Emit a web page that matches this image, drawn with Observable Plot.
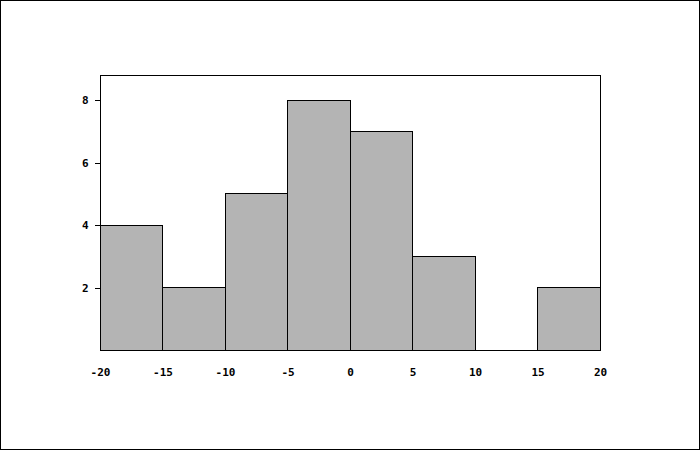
<!DOCTYPE html>
<html>
<head>
<meta charset="utf-8">
<script src="https://cdn.jsdelivr.net/npm/d3@7"></script>
<script src="https://cdn.jsdelivr.net/npm/@observablehq/plot@0.6"></script>
<style>
  html, body { margin: 0; padding: 0; background: #fff; }
  #wrap { position: relative; width: 700px; height: 450px; }
  #border { position: absolute; left: 0; top: 0; width: 700px; height: 450px; box-sizing: border-box; border: 1px solid #000; pointer-events: none; }
  #wrap svg { position: absolute; left: 0; top: 0; }
  #wrap svg rect, #wrap svg path, #wrap svg line { shape-rendering: crispEdges; }
</style>
</head>
<body>
<div id="wrap"><div id="border"></div></div>
<script>
const binStarts = [-20, -15, -10, -5, 0, 5, 10, 15];
const binEnds = [-15, -10, -5, 0, 5, 10, 15, 20];
const counts = [4, 2, 5, 8, 7, 3, 0, 2];
const xTicks = [-20, -15, -10, -5, 0, 5, 10, 15, 20];
const yTicks = [2, 4, 6, 8];

const bins = binStarts.map((s, i) => ({x1: s, x2: binEnds[i], y: counts[i]}));

const chart = Plot.plot({
  width: 700,
  height: 450,
  marginLeft: 100,
  marginRight: 100,
  marginTop: 75,
  marginBottom: 100,
  style: {fontFamily: "'DejaVu Sans Mono', monospace", fontSize: "11px", fontWeight: "bold", background: "transparent", color: "#000"},
  x: {domain: [-20, 20], ticks: xTicks, tickSize: 0, tickPadding: 18, tickFormat: d => String(d), label: null},
  y: {domain: [0, 8.8], ticks: yTicks, tickSize: 5, tickPadding: 7, tickFormat: d => String(d), label: null},
  marks: [
    Plot.rectY(bins.filter(d => d.y > 0), {x1: "x1", x2: "x2", y: "y", fill: "#b4b4b4", stroke: "#000", strokeWidth: 1, inset: 0}),
    Plot.frame({stroke: "#000", strokeWidth: 1})
  ]
});
document.getElementById("wrap").prepend(chart);
</script>
</body>
</html>
